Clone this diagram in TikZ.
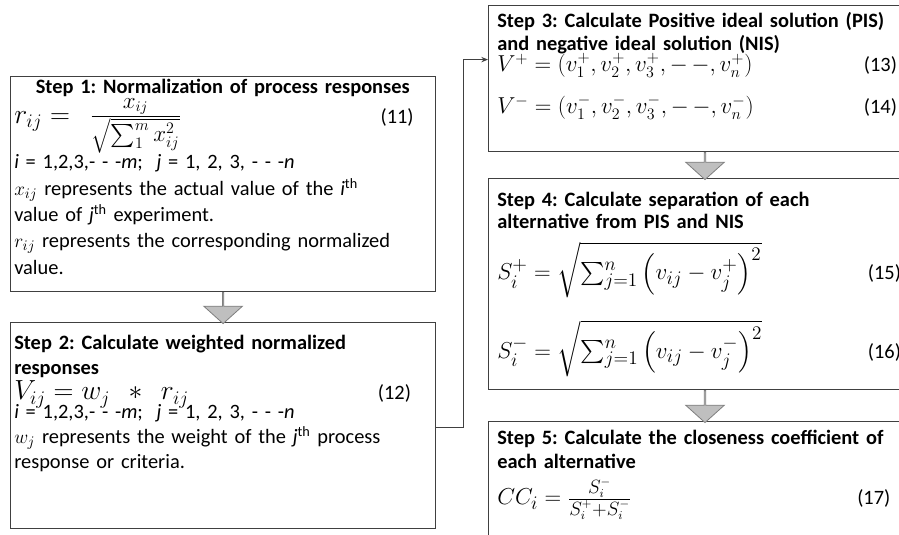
\documentclass[tikz,border=0pt]{standalone}
\usepackage{amsmath}
\usepackage{fontspec}
\setmainfont{Carlito}
\usetikzlibrary{arrows.meta, positioning, shapes.arrows}
\definecolor{boxline}{HTML}{404040}
\definecolor{arrowfill}{HTML}{BFBFBF}
\definecolor{arrowline}{HTML}{7F7F7F}
\definecolor{linkline}{HTML}{404040}
\newcommand{\eqfont}{\fontsize{18}{21}\selectfont}
\newcommand{\bigeqfont}{\fontsize{20}{22}\selectfont}
\newcommand{\numfont}{\fontsize{16}{17}\selectfont}
\newcommand{\denfont}{\fontsize{17}{18}\selectfont}
\frenchspacing

\begin{document}
\begin{tikzpicture}[
    x=0.75pt, y=-0.75pt,
    every node/.style={font=\fontsize{15.3}{18.75}\selectfont},
    stepframe/.style={
        draw=boxline,
        line width=0.9pt,
        anchor=north west,
        inner sep=0pt
    },
    steptext/.style={
        anchor=north west,
        align=left,
        inner ysep=3pt
    },
    fatarrow/.style={
        single arrow,
        draw=arrowline,
        fill=arrowfill,
        line width=0.6pt,
        rotate=-90,
        anchor=tail,
        inner sep=0pt,
        minimum width=29pt,
        single arrow head extend=8pt,
        single arrow tip angle=96
    },
    link/.style={draw=linkline, line width=0.8pt, -{Stealth[length=5pt, width=4pt]}}
]
\useasboundingbox (0,0) rectangle (899,535);

% frames
\node[stepframe, minimum width=318.75pt, minimum height=161.25pt] (norm) at (10,76) {};
\node[stepframe, minimum width=318.75pt, minimum height=154.5pt] (weight) at (10,322) {};
\node[stepframe, minimum width=325.5pt, minimum height=109.5pt] (ideal) at (488,5) {};
\node[stepframe, minimum width=325.5pt, minimum height=158.25pt] (separ) at (488,178) {};
\node[stepframe, minimum width=325.5pt, minimum height=93pt] (close) at (488,421) {};

% contents
\node[steptext, text width=312.75pt, inner xsep=3pt, inner ysep=2.5pt,
      font=\fontsize{15.3}{19.8}\selectfont] (normtxt) at (norm.north west) {%
    \makebox[\hsize][c]{\bfseries Step 1: Normalization of process responses}\\
    {\bigeqfont $r_{ij} =\;\, \frac{\mbox{\numfont$x_{ij}$}}{\sqrt{\mbox{\denfont$\sum_1^m x_{ij}^2$}}}$}\hfill\makebox[38pt][l]{(11)}\\[0pt]
    \textit{i} = 1,2,3,- - -\textit{m};\ \ \textit{j} = 1, 2, 3, - - -\textit{n}\\
    $x_{ij}$ represents the actual value of the \textit{i}\textsuperscript{th}\\
    value of \textit{j}\textsuperscript{th} experiment.\\
    $r_{ij}$ represents the corresponding normalized\\
    value.};
\node[steptext, text width=312.75pt, inner xsep=3pt, inner ysep=10pt] (weighttxt) at (weight.north west) {%
    \textbf{Step 2: Calculate weighted normalized}\\
    \textbf{responses}\\
    {\bigeqfont $V_{ij} = w_j \;\,*\;\, r_{ij}$}\hfill\makebox[40pt][l]{(12)}\\[-5pt]
    \textit{i} = 1,2,3,- - -\textit{m};\ \ \textit{j} = 1, 2, 3, - - -\textit{n}\\
    $w_j$ represents the weight of the \textit{j}\textsuperscript{th} process\\
    response or criteria.};
\node[steptext, text width=312pt, inner xsep=6.75pt, inner ysep=5.5pt,
      font=\fontsize{15.3}{17}\selectfont] (idealtxt) at (ideal.north west) {%
    \textbf{Step 3: Calculate Positive ideal solution (PIS)}\\
    \textbf{and negative ideal solution (NIS)}\\[-1pt]
    {\eqfont $V^+ = (v_1^+, v_2^+, v_3^+, -\,-, v_n^+)$}\hfill\makebox[37pt][l]{(13)}\\[12pt]
    {\eqfont $V^- = (v_1^-, v_2^-, v_3^-, -\,-, v_n^-)$}\hfill\makebox[37pt][l]{(14)}};
\node[steptext, text width=312pt, inner xsep=6.75pt, inner ysep=10.5pt,
      font=\fontsize{15.3}{16.5}\selectfont] (separtxt) at (separ.north west) {%
    \textbf{Step 4: Calculate separation of each}\\
    \textbf{alternative from PIS and NIS}\\[9pt]
    {\fontsize{19}{21}\selectfont $S_i^+ = \sqrt{\sum_{j=1}^n \left(v_{ij} - v_j^+\right)^2}$}\hfill\makebox[34pt][l]{(15)}\\[15.5pt]
    {\fontsize{19}{21}\selectfont $S_i^- = \sqrt{\sum_{j=1}^n \left(v_{ij} - v_j^-\right)^2}$}\hfill\makebox[34pt][l]{(16)}};
\node[steptext, text width=312pt, inner xsep=6.75pt, inner ysep=7pt,
      font=\fontsize{15.3}{18}\selectfont] (closetxt) at (close.north west) {%
    \textbf{Step 5: Calculate the closeness coefficient of}\\
    \textbf{each alternative}\\[6pt]
    {\fontsize{19}{21}\selectfont $CC_i = \frac{S_i^-}{S_i^+ + S_i^-}$}\hfill\makebox[42pt][l]{(17)}};

% arrows
\node[fatarrow, minimum height=23.25pt] (a12) at (norm.south) {};
\node[fatarrow, minimum height=20.25pt] (a34) at ([xshift=162.75pt]ideal.south west) {};
\node[fatarrow, minimum height=24pt] (a45) at ([xshift=162.75pt]separ.south west) {};

\draw[link] ([yshift=-1.5pt]weight.east) -- ++(27,0) |- ([yshift=14.25pt]ideal.west);

\end{tikzpicture}
\end{document}
